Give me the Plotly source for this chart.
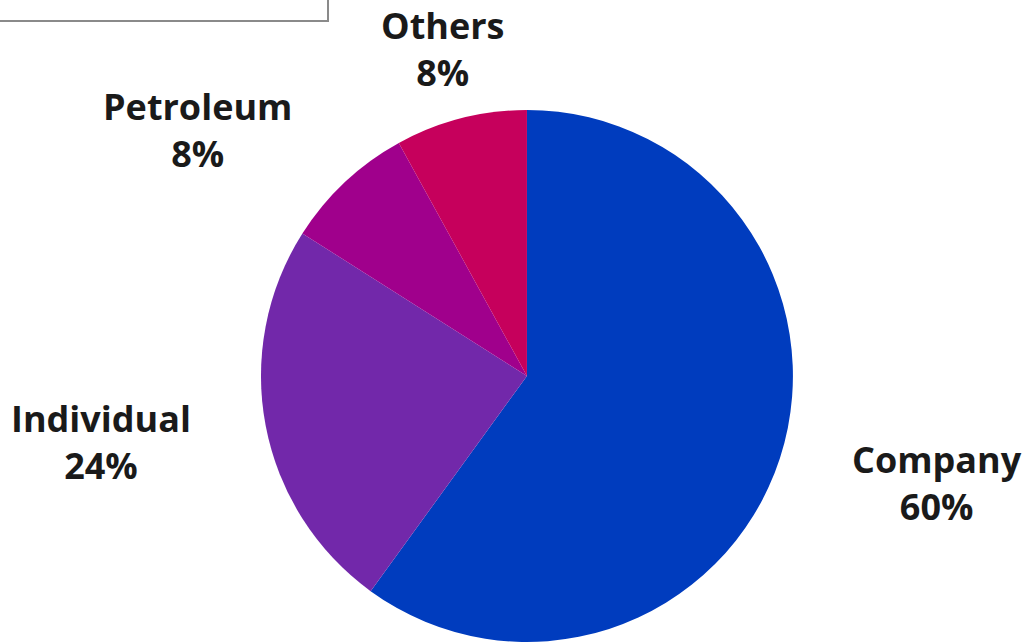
import math
import plotly.graph_objects as go

labels = ["Company", "Individual", "Petroleum", "Others"]
values = [60, 24, 8, 8]
colors = ["#003cbe", "#7228aa", "#a0008c", "#c6005c"]

W, H = 1026, 643
dom_x = [0.2543, 0.7729]
dom_y = [0.0016, 0.8289]
label_dist = 340  # px from pie centre to label anchor

fig = go.Figure(go.Pie(
    labels=labels,
    values=values,
    sort=False,
    direction="clockwise",
    rotation=0,
    marker=dict(colors=colors, line=dict(width=0)),
    textinfo="none",
    domain=dict(x=dom_x, y=dom_y),
    showlegend=False,
    hoverinfo="label+percent",
))

# outside labels, placed at each slice's mid-angle
cx = (dom_x[0] + dom_x[1]) / 2 * W
cy = (1 - (dom_y[0] + dom_y[1]) / 2) * H
total = sum(values)
cum = 0
for lab, v in zip(labels, values):
    mid = (cum + v / 2) / total * 2 * math.pi
    cum += v
    dx, dy = math.sin(mid), -math.cos(mid)
    px = cx + label_dist * dx
    py = cy + label_dist * dy
    if dx > 0.5:
        xa = "left"
    elif dx < -0.5:
        xa = "right"
    else:
        xa = "center"
    pct = round(v / total * 100)
    fig.add_annotation(
        x=px / W, y=1 - py / H, xref="paper", yref="paper",
        text=f"{lab}<br>{pct}%", showarrow=False,
        xanchor=xa, yanchor="middle", align="center", yshift=-2,
        font=dict(family="Open Sans", size=36, color="#1a1a1a", weight="bold"),
    )

fig.add_shape(type="rect", xref="paper", yref="paper",
              x0=-0.01, x1=0.3197, y0=1 - 21 / 643, y1=1.02,
              line=dict(color="#8a8a8a", width=2), fillcolor="rgba(0,0,0,0)")

fig.update_layout(
    width=W, height=H,
    margin=dict(l=0, r=0, t=0, b=0),
    paper_bgcolor="white",
    plot_bgcolor="white",
)

fig.write_html("out.html")
